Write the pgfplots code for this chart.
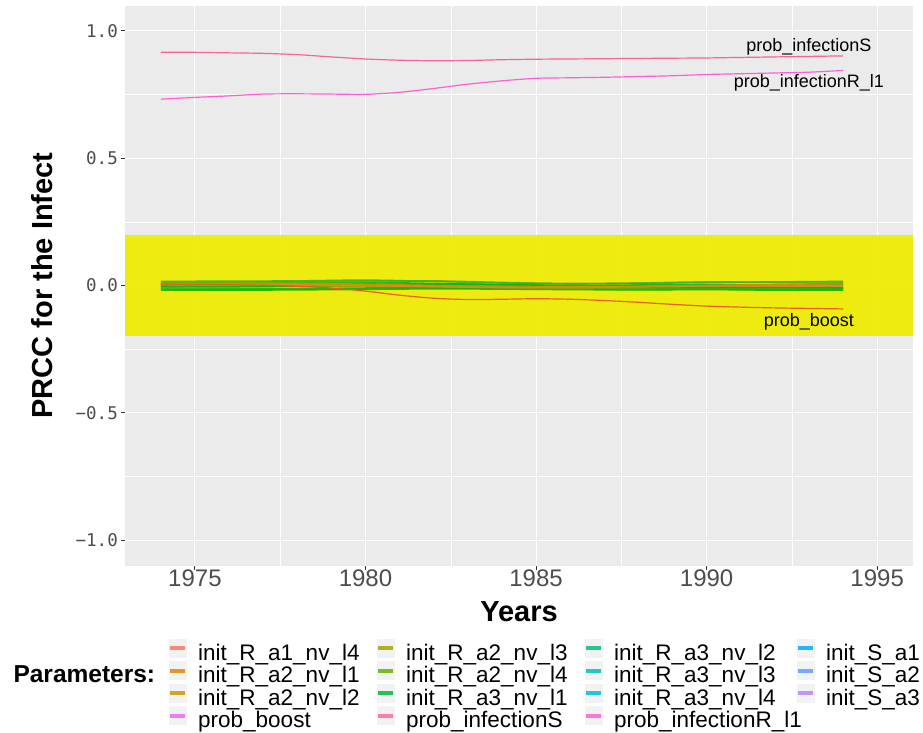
\documentclass[border=0pt]{standalone}
\usepackage{pgfplots}
\pgfplotsset{compat=1.18}
\usepackage{pgfplotstable}
\usepackage{fontspec}
\setmainfont{Liberation Sans}
\newfontfamily\monofont{DejaVu Sans Mono}

\definecolor{panelbg}{RGB}{235,235,235}
\definecolor{tickgrey}{RGB}{77,77,77}
\definecolor{tickdark}{RGB}{51,51,51}
\definecolor{bandyellow}{RGB}{238,236,0}
\definecolor{keybg}{RGB}{242,242,242}
\definecolor{cS}{HTML}{F5649E}
\definecolor{cR}{HTML}{FD61D1}
\definecolor{cBoost}{RGB}{232,96,24}
\definecolor{gA}{HTML}{39B600}
\definecolor{oB}{HTML}{E58700}
\definecolor{gC}{HTML}{00BA38}
\definecolor{oD}{HTML}{D89000}
\definecolor{gE}{HTML}{00C000}
\definecolor{gF}{HTML}{7CAE00}
\definecolor{gG}{HTML}{24B700}
\definecolor{gH}{HTML}{00BA38}
\definecolor{oI}{HTML}{EA8331}
\definecolor{gJ}{HTML}{6BB100}
\definecolor{gK}{HTML}{00B81F}
\definecolor{gL}{HTML}{1DB600}
% legend key colours (ggplot hue palette)
\definecolor{k01}{HTML}{F8766D}
\definecolor{k02}{HTML}{E58700}
\definecolor{k03}{HTML}{C99800}
\definecolor{k04}{HTML}{A3A500}
\definecolor{k05}{HTML}{6BB100}
\definecolor{k06}{HTML}{00BA38}
\definecolor{k07}{HTML}{00BF7D}
\definecolor{k08}{HTML}{00C0AF}
\definecolor{k09}{HTML}{00BCD8}
\definecolor{k10}{HTML}{00B0F6}
\definecolor{k11}{HTML}{619CFF}
\definecolor{k12}{HTML}{B983FF}
\definecolor{k13}{HTML}{E76BF3}
\definecolor{k14}{HTML}{FF67A4}
\definecolor{k15}{HTML}{FD61D1}

\newcommand\keyimg[1]{%
  \fill[keybg, draw=none] (0bp,-2.5bp) rectangle (18bp,16.5bp);
  \path[draw=#1, line width=4bp, draw opacity=0.85] (1.5bp,7bp) -- (16.5bp,7bp);}

\pgfplotstableread{
year S R boost
1974 0.916 0.732 0.005
1975 0.916 0.739 0.004
1976 0.914 0.745 0.003
1977 0.912 0.752 0.001
1978 0.907 0.753 -0.003
1979 0.898 0.752 -0.010
1980 0.890 0.751 -0.022
1981 0.885 0.759 -0.038
1982 0.883 0.774 -0.050
1983 0.884 0.791 -0.055
1984 0.887 0.804 -0.054
1985 0.889 0.814 -0.052
1986 0.890 0.816 -0.054
1987 0.891 0.818 -0.059
1988 0.892 0.821 -0.066
1989 0.893 0.824 -0.074
1990 0.894 0.829 -0.081
1991 0.896 0.832 -0.085
1992 0.898 0.835 -0.088
1993 0.900 0.838 -0.090
1994 0.902 0.845 -0.092
}\maintab

\pgfplotstableread{
year A B C D E F G H I J K L
1974 0.016 0.010 0.004 0.002 -0.004 -0.008 -0.012 -0.016 0.006 0.012 -0.002 -0.018
1976 0.017 0.009 0.006 0.002 -0.003 -0.006 -0.013 -0.016 0.005 0.012 0.000 -0.018
1978 0.018 0.008 0.010 0.001 -0.002 -0.004 -0.012 -0.015 0.004 0.014 0.003 -0.017
1980 0.021 0.005 0.012 0.000 0.003 -0.002 -0.010 -0.012 0.001 0.016 0.006 -0.015
1982 0.016 0.000 0.008 -0.002 0.006 -0.004 -0.006 -0.010 -0.004 0.018 0.002 -0.013
1984 0.010 -0.004 0.003 -0.003 0.004 -0.008 -0.004 -0.012 -0.008 0.012 -0.002 -0.014
1986 0.006 -0.006 0.000 -0.004 0.000 -0.010 -0.010 -0.014 -0.007 0.008 -0.004 -0.016
1988 0.008 -0.004 0.002 -0.002 -0.004 -0.008 -0.012 -0.016 -0.005 0.010 -0.006 -0.017
1990 0.012 0.000 0.004 0.001 -0.006 -0.006 -0.011 -0.015 -0.003 0.014 -0.005 -0.016
1992 0.014 0.004 0.002 0.003 -0.008 -0.007 -0.012 -0.016 -0.002 0.012 -0.004 -0.018
1994 0.016 0.008 0.000 0.005 -0.010 -0.008 -0.013 -0.016 -0.002 0.010 -0.004 -0.018
}\bundletab

\begin{document}
\begin{tikzpicture}
\path[use as bounding box] (0bp,0bp) rectangle (923bp,-733bp);
\begin{axis}[
  at={(125bp,-5.5bp)}, anchor=north west,
  scale only axis, width=788bp, height=560bp,
  xmin=1972.95, xmax=1996.05, ymin=-1.1, ymax=1.1,
  axis background/.style={fill=panelbg},
  axis line style={draw=none},
  xtick={1975,1980,1985,1990,1995},
  xticklabels={1975,1980,1985,1990,1995},
  minor xtick={1977.5,1982.5,1987.5,1992.5},
  ytick={-1,-0.5,0,0.5,1},
  yticklabels={−1.0,−0.5,0.0,0.5,1.0},
  minor ytick={-0.75,-0.25,0.25,0.75},
  grid=both,
  major grid style={white, line width=1.07bp},
  minor grid style={white, line width=0.53bp},
  tick align=outside, xtick pos=bottom, ytick pos=left,
  major tick length=4bp, minor tick length=0bp,
  tick style={tickdark, line width=1bp},
  xticklabel style={font=\fontsize{24bp}{28bp}\selectfont, text=tickgrey, inner sep=0pt, anchor=north, yshift=-0.5bp},
  yticklabel style={font=\monofont\fontsize{17.5bp}{20bp}\selectfont, text=tickgrey, inner sep=0pt, anchor=east, xshift=-3bp},
  xlabel={Years},
  ylabel={PRCC for the Infect},
  every axis x label/.style={at={(axis description cs:0.5,-0.0991)}, anchor=base, font=\bfseries\fontsize{29bp}{32bp}\selectfont},
  every axis y label/.style={at={(axis description cs:-0.0914,0.5)}, rotate=90, anchor=base, font=\bfseries\fontsize{29bp}{32bp}\selectfont},
  legend columns=4,
  legend cell align=left,
  legend style={at={(axis description cs:0.05457,-0.1305)}, anchor=north west, draw=none, fill=none, inner sep=0pt, column sep=0pt, row sep=-5bp,
    nodes={inner sep=0pt, text height=16bp, text depth=6bp, font=\fontsize{22.5bp}{26bp}\selectfont}},
]
% significance band
\addplot[forget plot, draw=none, fill=bandyellow, fill opacity=0.93] coordinates {(1972.95,-0.2) (1996.05,-0.2) (1996.05,0.2) (1972.95,0.2)} -- cycle;

% near-zero parameters
\addplot[forget plot, smooth, gH, line width=1.6bp, opacity=0.9] table[x=year,y=H]{\bundletab};
\addplot[forget plot, smooth, gL, line width=1.6bp, opacity=0.9] table[x=year,y=L]{\bundletab};
\addplot[forget plot, smooth, gG, line width=1.6bp, opacity=0.9] table[x=year,y=G]{\bundletab};
\addplot[forget plot, smooth, gF, line width=1.6bp, opacity=0.9] table[x=year,y=F]{\bundletab};
\addplot[forget plot, smooth, gE, line width=1.6bp, opacity=0.9] table[x=year,y=E]{\bundletab};
\addplot[forget plot, smooth, gK, line width=1.6bp, opacity=0.9] table[x=year,y=K]{\bundletab};
\addplot[forget plot, smooth, oD, line width=1.6bp, opacity=0.9] table[x=year,y=D]{\bundletab};
\addplot[forget plot, smooth, gC, line width=1.6bp, opacity=0.9] table[x=year,y=C]{\bundletab};
\addplot[forget plot, smooth, oI, line width=1.6bp, opacity=0.9] table[x=year,y=I]{\bundletab};
\addplot[forget plot, smooth, oB, line width=1.6bp, opacity=0.9] table[x=year,y=B]{\bundletab};
\addplot[forget plot, smooth, gJ, line width=1.6bp, opacity=0.9] table[x=year,y=J]{\bundletab};
\addplot[forget plot, smooth, gA, line width=1.6bp, opacity=0.9] table[x=year,y=A]{\bundletab};

% main parameters
\addplot[forget plot, smooth, cBoost, line width=1.2bp] table[x=year,y=boost]{\maintab};
\addplot[forget plot, smooth, cS, line width=1.2bp] table[x=year,y=S]{\maintab};
\addplot[forget plot, smooth, cR, line width=1.2bp] table[x=year,y=R]{\maintab};

% labels
\node[anchor=base, font=\fontsize{18bp}{21bp}\selectfont] at (axis cs:1993,0.9206) {prob\_infectionS};
\node[anchor=base, font=\fontsize{18bp}{21bp}\selectfont] at (axis cs:1993,0.777) {prob\_infectionR\_l1};
\node[anchor=base, font=\fontsize{18bp}{21bp}\selectfont] at (axis cs:1993,-0.162) {prob\_boost};

% legend (row order)
\addlegendimage{legend image code/.code={\keyimg{k01}}}
\addlegendentry{\makebox[189bp][l]{\hspace*{11bp}init\_R\_a1\_nv\_l4}}
\addlegendimage{legend image code/.code={\keyimg{k04}}}
\addlegendentry{\makebox[189bp][l]{\hspace*{11bp}init\_R\_a2\_nv\_l3}}
\addlegendimage{legend image code/.code={\keyimg{k07}}}
\addlegendentry{\makebox[193bp][l]{\hspace*{11bp}init\_R\_a3\_nv\_l2}}
\addlegendimage{legend image code/.code={\keyimg{k10}}}
\addlegendentry{\makebox[100bp][l]{\hspace*{11bp}init\_S\_a1}}

\addlegendimage{legend image code/.code={\keyimg{k02}}}
\addlegendentry{\makebox[189bp][l]{\hspace*{11bp}init\_R\_a2\_nv\_l1}}
\addlegendimage{legend image code/.code={\keyimg{k05}}}
\addlegendentry{\makebox[189bp][l]{\hspace*{11bp}init\_R\_a2\_nv\_l4}}
\addlegendimage{legend image code/.code={\keyimg{k08}}}
\addlegendentry{\makebox[193bp][l]{\hspace*{11bp}init\_R\_a3\_nv\_l3}}
\addlegendimage{legend image code/.code={\keyimg{k11}}}
\addlegendentry{\makebox[100bp][l]{\hspace*{11bp}init\_S\_a2}}

\addlegendimage{legend image code/.code={\keyimg{k03}}}
\addlegendentry{\makebox[189bp][l]{\hspace*{11bp}init\_R\_a2\_nv\_l2}}
\addlegendimage{legend image code/.code={\keyimg{k06}}}
\addlegendentry{\makebox[189bp][l]{\hspace*{11bp}init\_R\_a3\_nv\_l1}}
\addlegendimage{legend image code/.code={\keyimg{k09}}}
\addlegendentry{\makebox[193bp][l]{\hspace*{11bp}init\_R\_a3\_nv\_l4}}
\addlegendimage{legend image code/.code={\keyimg{k12}}}
\addlegendentry{\makebox[100bp][l]{\hspace*{11bp}init\_S\_a3}}

\addlegendimage{legend image code/.code={\keyimg{k13}}}
\addlegendentry{\makebox[189bp][l]{\hspace*{11bp}prob\_boost}}
\addlegendimage{legend image code/.code={\keyimg{k14}}}
\addlegendentry{\makebox[189bp][l]{\hspace*{11bp}prob\_infectionS}}
\addlegendimage{legend image code/.code={\keyimg{k15}}}
\addlegendentry{\makebox[193bp][l]{\hspace*{11bp}prob\_infectionR\_l1}}
\end{axis}
\node[anchor=base west, font=\bfseries\fontsize{24.5bp}{28bp}\selectfont] at (10bp,-682bp) {Parameters:};
\end{tikzpicture}
\end{document}
